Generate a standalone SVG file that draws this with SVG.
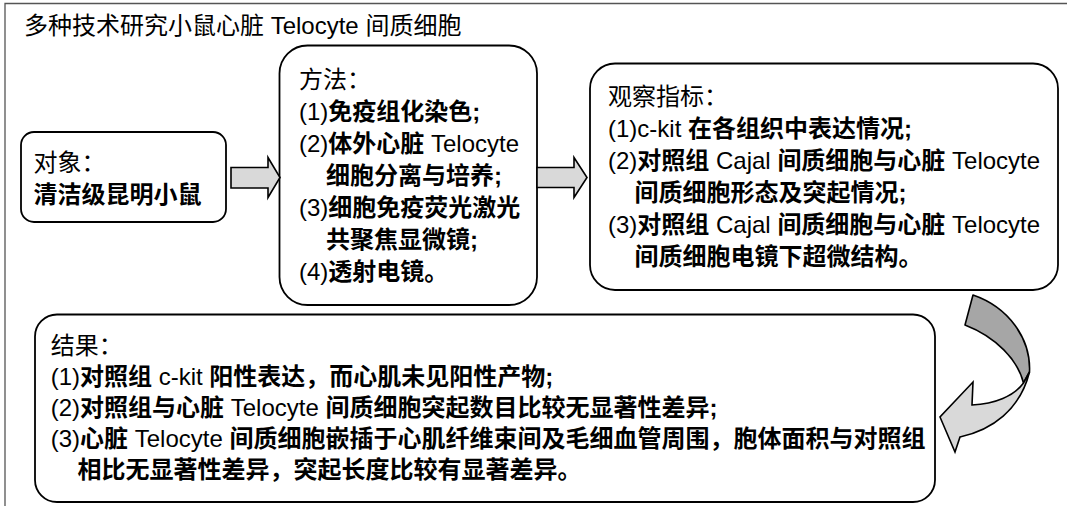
<svg xmlns="http://www.w3.org/2000/svg" width="1067" height="506" viewBox="0 0 1067 506">
<style>
text{font-family:"Liberation Sans","Noto Sans CJK SC",sans-serif;font-size:24px;fill:#000}
.b{font-weight:bold}
.box{fill:#fff;stroke:#000;stroke-width:1.8}
.arr{fill:#d9d9d9;stroke:#000;stroke-width:1.6;stroke-linejoin:miter}
.dark{fill:#a6a6a6;stroke:#000;stroke-width:1.6;stroke-linejoin:round}
.light{fill:#d9d9d9;stroke:#000;stroke-width:1.6;stroke-linejoin:miter}
</style>
<rect width="1067" height="506" fill="#fff"/>
<g id="frame">
<path d="M5,506 V3.5 H1067" fill="none" stroke="#555" stroke-width="1.3"/>
<text x="24" y="34">多种技术研究小鼠心脏 Telocyte 间质细胞</text>
</g>
<g id="node-object">
<rect class="box" x="21" y="132" width="205" height="90" rx="13"/>
<text x="33.5" y="171">对象：</text>
<text x="33.5" y="203" class="b">清洁级昆明小鼠</text>
</g>
<g id="node-method">
<rect class="box" x="279.5" y="45.5" width="257.5" height="259.5" rx="28"/>
<text x="299" y="88">方法：</text>
<text x="299" y="120">(1)<tspan class="b">免疫组化染色;</tspan></text>
<text x="299" y="152">(2)<tspan class="b">体外心脏</tspan> Telocyte</text>
<text x="326" y="184" class="b">细胞分离与培养;</text>
<text x="299" y="216">(3)<tspan class="b">细胞免疫荧光激光</tspan></text>
<text x="326" y="248" class="b">共聚焦显微镜;</text>
<text x="299" y="280">(4)<tspan class="b">透射电镜。</tspan></text>
</g>
<g id="node-observe">
<rect class="box" x="590" y="63.5" width="468" height="226.5" rx="25"/>
<text x="608" y="104.5">观察指标：</text>
<text x="608" y="136.5">(1)c-kit <tspan class="b">在各组织中表达情况;</tspan></text>
<text x="608" y="168.5">(2)<tspan class="b">对照组</tspan> Cajal <tspan class="b">间质细胞与心脏</tspan> Telocyte</text>
<text x="634.5" y="200.5" class="b">间质细胞形态及突起情况;</text>
<text x="608" y="232.5">(3)<tspan class="b">对照组</tspan> Cajal <tspan class="b">间质细胞与心脏</tspan> Telocyte</text>
<text x="634.5" y="264.5" class="b">间质细胞电镜下超微结构。</text>
</g>
<g id="node-result">
<rect class="box" x="35" y="314.5" width="900" height="187.5" rx="22"/>
<text x="50.7" y="354">结果：</text>
<text x="50.7" y="385">(1)<tspan class="b">对照组</tspan> c-kit <tspan class="b">阳性表达，而心肌未见阳性产物;</tspan></text>
<text x="50.7" y="416">(2)<tspan class="b">对照组与心脏</tspan> Telocyte <tspan class="b">间质细胞突起数目比较无显著性差异;</tspan></text>
<text x="50.7" y="447">(3)<tspan class="b">心脏</tspan> Telocyte <tspan class="b">间质细胞嵌插于心肌纤维束间及毛细血管周围，胞体面积与对照组</tspan></text>
<text x="77.6" y="478" class="b">相比无显著性差异，突起长度比较有显著差异。</text>
</g>
<g id="connectors">
<path class="arr" d="M231,167.5 H268 V157.5 L280,177.5 L268,197.5 V188 H231 Z"/>
<path class="arr" d="M537,167.5 H574 V157.5 L587,177.5 L574,197.5 V187.5 H537 Z"/>
<path class="dark" d="M973,295 C1008,307 1031,338 1029.5,372 L1023.5,383 C1018,360 996,337 965,325 Z"/>
<path class="light" d="M1023.5,383 C1014,396 995,404 972,405 L973,382 L940,417 L955,452 L960,437 C992,430 1020,410 1029.5,372 Z"/>
</g>
</svg>
